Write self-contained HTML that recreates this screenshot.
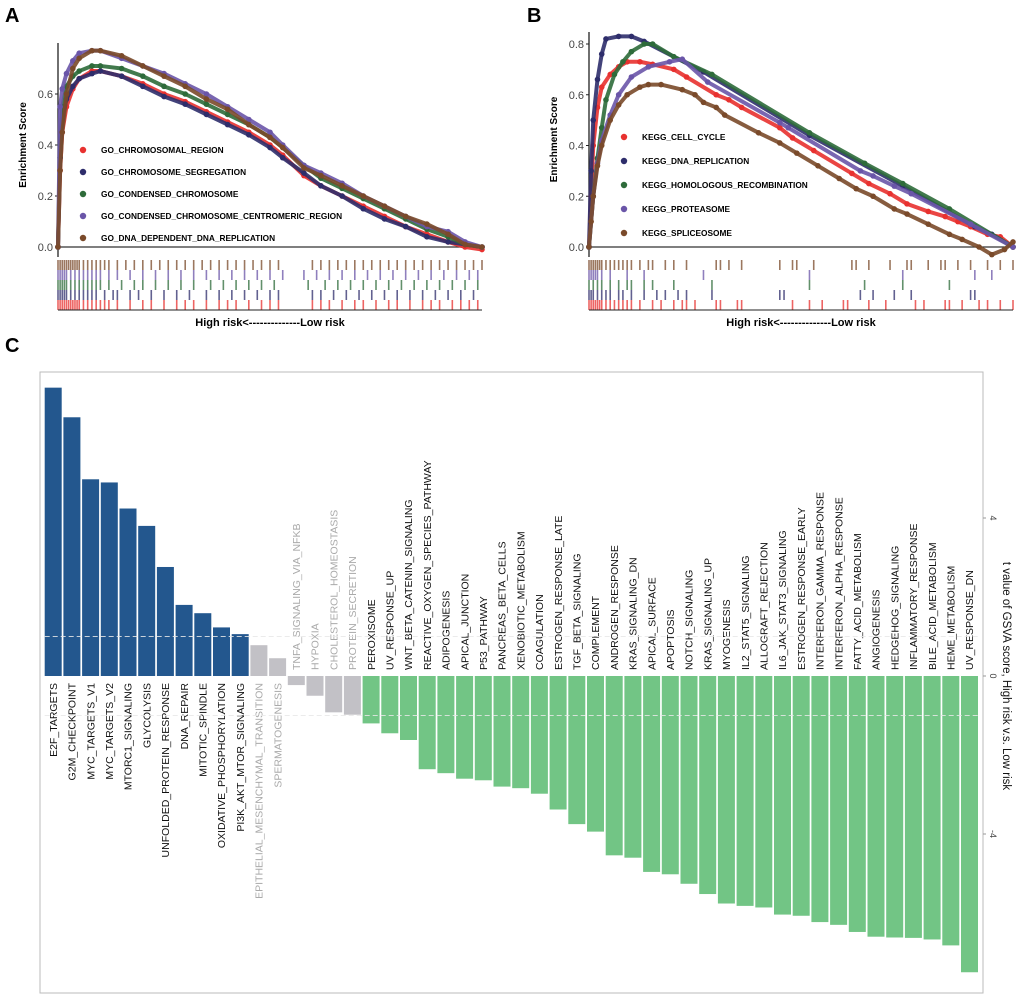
<!DOCTYPE html>
<html><head><meta charset="utf-8"><style>
html,body{margin:0;padding:0;background:#fff;}
svg{display:block;font-family:"Liberation Sans",Arial,sans-serif;}
</style></head><body>
<svg id="fig" width="1020" height="999" viewBox="0 0 1020 999" xmlns="http://www.w3.org/2000/svg">
<text x="5" y="22" font-size="20" font-weight="bold">A</text>
<text x="527" y="22" font-size="20" font-weight="bold">B</text>
<text x="5" y="352" font-size="20" font-weight="bold">C</text>
<g id="pa"></g>
<g id="pb"></g>
<g id="pc"></g>
</svg>
<script>
const NS='http://www.w3.org/2000/svg';
function mk(p,t,a){const e=document.createElementNS(NS,t);for(const k in a)e.setAttribute(k,a[k]);p.appendChild(e);return e;}
const COLORS=['#e8312f','#2e2d6b','#2e6b3a','#6a55a8','#7a4a2a'];

// ---- Panel A data ----
const aNames=['GO_CHROMOSOMAL_REGION','GO_CHROMOSOME_SEGREGATION','GO_CONDENSED_CHROMOSOME','GO_CONDENSED_CHROMOSOME_CENTROMERIC_REGION','GO_DNA_DEPENDENT_DNA_REPLICATION'];
const aX=[0,0.005,0.01,0.02,0.035,0.05,0.08,0.1,0.15,0.2,0.25,0.3,0.35,0.4,0.45,0.5,0.53,0.58,0.62,0.67,0.72,0.77,0.82,0.87,0.92,0.96,1];
const aRed=[0,0.3,0.45,0.55,0.62,0.66,0.69,0.69,0.67,0.64,0.6,0.57,0.53,0.49,0.45,0.40,0.36,0.28,0.24,0.2,0.16,0.12,0.08,0.05,0.02,0.0,-0.01];
const aNavy=[0,0.35,0.5,0.58,0.63,0.66,0.68,0.69,0.67,0.63,0.59,0.56,0.52,0.48,0.44,0.39,0.35,0.29,0.24,0.2,0.15,0.11,0.08,0.04,0.02,0.01,0.0];
const aGreen=[0,0.4,0.55,0.63,0.67,0.69,0.71,0.71,0.70,0.67,0.63,0.6,0.56,0.52,0.48,0.43,0.39,0.32,0.27,0.23,0.19,0.15,0.11,0.07,0.04,0.01,0.0];
const aPurple=[0,0.55,0.62,0.68,0.73,0.76,0.77,0.77,0.74,0.71,0.68,0.64,0.6,0.55,0.5,0.45,0.40,0.32,0.29,0.25,0.2,0.16,0.12,0.08,0.06,0.02,0.0];
const aBrown=[0,0.3,0.45,0.6,0.7,0.74,0.77,0.77,0.75,0.71,0.67,0.63,0.58,0.54,0.48,0.43,0.39,0.31,0.28,0.24,0.2,0.16,0.12,0.09,0.05,0.01,0.0];
const aTicks=[0,0.2,0.4,0.6];
const aRug=[
 [0,0.005,0.01,0.015,0.02,0.025,0.03,0.035,0.04,0.045,0.05,0.06,0.07,0.08,0.09,0.1,0.11,0.12,0.14,0.17,0.2,0.22,0.25,0.28,0.3,0.32,0.35,0.38,0.4,0.42,0.45,0.48,0.5,0.52,0.6,0.62,0.64,0.67,0.7,0.72,0.75,0.78,0.8,0.83,0.86,0.88,0.9,0.93,0.95,0.97,0.99],
 [0,0.005,0.01,0.015,0.02,0.03,0.04,0.05,0.06,0.07,0.08,0.09,0.11,0.13,0.14,0.17,0.19,0.22,0.25,0.28,0.31,0.35,0.38,0.41,0.44,0.47,0.5,0.52,0.6,0.62,0.65,0.68,0.71,0.74,0.77,0.8,0.83,0.86,0.89,0.92,0.95,0.98],
 [0,0.005,0.01,0.015,0.02,0.03,0.04,0.05,0.06,0.07,0.08,0.09,0.1,0.12,0.15,0.18,0.2,0.23,0.26,0.29,0.32,0.36,0.39,0.42,0.45,0.48,0.51,0.59,0.63,0.66,0.69,0.72,0.75,0.78,0.81,0.84,0.87,0.9,0.93,0.96,0.99],
 [0,0.005,0.01,0.015,0.02,0.03,0.04,0.05,0.06,0.07,0.08,0.09,0.1,0.12,0.14,0.17,0.2,0.23,0.26,0.29,0.32,0.35,0.38,0.41,0.44,0.47,0.5,0.53,0.58,0.61,0.64,0.67,0.7,0.73,0.76,0.79,0.82,0.85,0.88,0.91,0.94,0.97,0.99],
 [0,0.005,0.01,0.015,0.02,0.025,0.03,0.035,0.04,0.045,0.05,0.06,0.07,0.08,0.09,0.1,0.11,0.12,0.14,0.16,0.18,0.2,0.22,0.24,0.26,0.28,0.3,0.32,0.34,0.36,0.38,0.4,0.42,0.44,0.46,0.48,0.5,0.52,0.6,0.62,0.64,0.66,0.68,0.7,0.72,0.74,0.76,0.78,0.8,0.82,0.84,0.86,0.88,0.9,0.92,0.94,0.96,0.98,1]];

// ---- Panel B data ----
const bNames=['KEGG_CELL_CYCLE','KEGG_DNA_REPLICATION','KEGG_HOMOLOGOUS_RECOMBINATION','KEGG_PROTEASOME','KEGG_SPLICEOSOME'];
const bRedX=[0,0.005,0.01,0.02,0.03,0.05,0.07,0.09,0.12,0.15,0.2,0.23,0.3,0.33,0.36,0.45,0.48,0.53,0.62,0.66,0.71,0.75,0.8,0.84,0.87,0.9,0.94,0.97,1];
const bRed=[0,0.2,0.4,0.55,0.63,0.68,0.71,0.73,0.73,0.72,0.7,0.67,0.6,0.58,0.55,0.47,0.43,0.38,0.29,0.25,0.21,0.17,0.14,0.12,0.1,0.08,0.05,0.04,0.0];
const bNavyX=[0,0.005,0.01,0.02,0.03,0.04,0.07,0.1,0.13,0.27,0.52,0.74,0.91,0.95,1];
const bNavy=[0,0.3,0.5,0.66,0.76,0.82,0.83,0.83,0.81,0.69,0.44,0.24,0.08,0.05,0.0];
const bGreenX=[0,0.01,0.02,0.03,0.04,0.06,0.08,0.1,0.13,0.15,0.2,0.29,0.52,0.65,0.74,0.85,1];
const bGreen=[0,0.2,0.35,0.47,0.58,0.68,0.73,0.77,0.8,0.8,0.75,0.68,0.45,0.33,0.25,0.15,0.0];
const bPurpleX=[0,0.01,0.02,0.03,0.05,0.07,0.1,0.14,0.19,0.22,0.28,0.45,0.47,0.64,0.67,0.72,0.76,0.9,1];
const bPurple=[0,0.2,0.33,0.42,0.52,0.6,0.67,0.71,0.73,0.74,0.65,0.49,0.47,0.3,0.28,0.24,0.21,0.09,0.0];
const bBrownX=[0,0.005,0.01,0.02,0.03,0.05,0.07,0.09,0.12,0.14,0.17,0.22,0.25,0.27,0.3,0.32,0.4,0.45,0.49,0.54,0.59,0.63,0.67,0.72,0.75,0.8,0.85,0.88,0.92,0.95,0.98,1];
const bBrown=[0,0.1,0.2,0.32,0.4,0.5,0.56,0.6,0.63,0.64,0.64,0.62,0.6,0.57,0.55,0.52,0.45,0.41,0.37,0.32,0.27,0.23,0.2,0.15,0.13,0.09,0.05,0.03,0.0,-0.03,-0.01,0.02];
const bTicks=[0,0.2,0.4,0.6,0.8];
const bRug=[
 [0,0.005,0.01,0.015,0.02,0.025,0.03,0.04,0.05,0.06,0.07,0.08,0.09,0.1,0.12,0.15,0.17,0.2,0.22,0.23,0.25,0.3,0.31,0.35,0.36,0.48,0.52,0.55,0.6,0.61,0.66,0.7,0.77,0.79,0.84,0.85,0.88,0.92,0.94,0.97,1],
 [0,0.005,0.01,0.02,0.03,0.04,0.05,0.07,0.08,0.1,0.13,0.16,0.18,0.21,0.23,0.29,0.45,0.46,0.64,0.67,0.72,0.76,0.9,0.91],
 [0,0.01,0.02,0.03,0.05,0.07,0.09,0.1,0.13,0.15,0.2,0.29,0.52,0.65,0.74,0.85],
 [0,0.005,0.01,0.015,0.02,0.03,0.05,0.09,0.13,0.27,0.52,0.74,0.91,0.95],
 [0,0.005,0.01,0.015,0.02,0.025,0.03,0.04,0.05,0.06,0.07,0.08,0.09,0.1,0.12,0.14,0.15,0.18,0.2,0.23,0.3,0.31,0.33,0.36,0.45,0.48,0.49,0.53,0.62,0.63,0.66,0.71,0.75,0.76,0.8,0.83,0.84,0.87,0.9,0.94,0.97,1]];

function gsea(g,x0,x1,y0,scale,ticks,series,names,rug,legX,legY,legStep,axTop){
  const X=f=>x0+f*(x1-x0), Y=v=>y0-v*scale;
  mk(g,'line',{x1:x0,y1:axTop,x2:x0,y2:y0+10,stroke:'#222','stroke-width':1.3,});
  mk(g,'line',{x1:x0,y1:y0,x2:x1,y2:y0,stroke:'#333','stroke-width':1.2,});
  ticks.forEach(t=>{
    const tl=mk(g,'line',{x1:x0-3,y1:Y(t),x2:x0,y2:Y(t),stroke:'#222'});
    
    
    const tx=mk(g,'text',{x:x0-5,y:Y(t)+4,'text-anchor':'end','font-size':11,fill:'#444'});
    tx.textContent=t.toFixed(1);
    
    
  });
  const yt=mk(g,'text',{transform:`translate(${x0-32},${(axTop+y0)/2}) rotate(-90)`,'text-anchor':'middle','font-size':10,'font-weight':'bold'});
  yt.textContent='Enrichment Score';
  
  
  series.forEach((s,i)=>{
    const pts=s.x.map((xv,j)=>X(xv)+','+Y(s.y[j])).join(' ');
    const pl=mk(g,'polyline',{points:pts,fill:'none',stroke:COLORS[i],'stroke-width':4,'stroke-linejoin':'round','stroke-linecap':'round',opacity:0.9});
    
    
    s.x.forEach((xv,j)=>{const c=mk(g,'circle',{cx:X(xv),cy:Y(s.y[j]),r:2.8,fill:COLORS[i]});
      
      });
  });
  names.forEach((n,i)=>{
    const c=mk(g,'circle',{cx:legX,cy:legY+i*legStep,r:3.2,fill:COLORS[i]});
    
    
    const t=mk(g,'text',{x:legX+18,y:legY+i*legStep+3,'font-size':8.3,'font-weight':'bold'});
    t.textContent=n;
    
    
  });
  const order=[4,3,2,1,0]; const rt=y0+13, rh=10;
  order.forEach((si,row)=>{
    rug[si].forEach(f=>{const l=mk(g,'line',{x1:X(f),x2:X(f),y1:rt+row*rh,y2:rt+row*rh+rh,stroke:COLORS[si],'stroke-width':1.6,opacity:0.75});
      
      });
  });
  mk(g,'line',{x1:x0,y1:rt+5*rh,x2:x1,y2:rt+5*rh,stroke:'#222','stroke-width':1});
  const xl=mk(g,'text',{x:(x0+x1)/2,y:rt+5*rh+16,'text-anchor':'middle','font-size':11,'font-weight':'bold'});
  xl.textContent='High risk<--------------Low risk';
  
  
}
gsea(document.getElementById('pa'),58,482,247,255,aTicks,
 [aRed,aNavy,aGreen,aPurple,aBrown].map(y=>({x:aX,y})),aNames,aRug,83,150,22,43);
gsea(document.getElementById('pb'),589,1013,247,253.75,bTicks,
 [{x:bRedX,y:bRed},{x:bNavyX,y:bNavy},{x:bGreenX,y:bGreen},{x:bPurpleX,y:bPurple},{x:bBrownX,y:bBrown}],bNames,bRug,624,137,24,32);

// ---- Panel C data ----
const cCats=['E2F_TARGETS','G2M_CHECKPOINT','MYC_TARGETS_V1','MYC_TARGETS_V2','MTORC1_SIGNALING','GLYCOLYSIS','UNFOLDED_PROTEIN_RESPONSE','DNA_REPAIR','MITOTIC_SPINDLE','OXIDATIVE_PHOSPHORYLATION','PI3K_AKT_MTOR_SIGNALING','EPITHELIAL_MESENCHYMAL_TRANSITION','SPERMATOGENESIS','TNFA_SIGNALING_VIA_NFKB','HYPOXIA','CHOLESTEROL_HOMEOSTASIS','PROTEIN_SECRETION','PEROXISOME','UV_RESPONSE_UP','WNT_BETA_CATENIN_SIGNALING','REACTIVE_OXYGEN_SPECIES_PATHWAY','ADIPOGENESIS','APICAL_JUNCTION','P53_PATHWAY','PANCREAS_BETA_CELLS','XENOBIOTIC_METABOLISM','COAGULATION','ESTROGEN_RESPONSE_LATE','TGF_BETA_SIGNALING','COMPLEMENT','ANDROGEN_RESPONSE','KRAS_SIGNALING_DN','APICAL_SURFACE','APOPTOSIS','NOTCH_SIGNALING','KRAS_SIGNALING_UP','MYOGENESIS','IL2_STAT5_SIGNALING','ALLOGRAFT_REJECTION','IL6_JAK_STAT3_SIGNALING','ESTROGEN_RESPONSE_EARLY','INTERFERON_GAMMA_RESPONSE','INTERFERON_ALPHA_RESPONSE','FATTY_ACID_METABOLISM','ANGIOGENESIS','HEDGEHOG_SIGNALING','INFLAMMATORY_RESPONSE','BILE_ACID_METABOLISM','HEME_METABOLISM','UV_RESPONSE_DN'];
const cVals=[7.3,6.55,4.98,4.9,4.24,3.8,2.76,1.8,1.59,1.23,1.06,0.78,0.45,-0.23,-0.5,-0.92,-0.98,-1.2,-1.45,-1.62,-2.36,-2.46,-2.6,-2.64,-2.8,-2.84,-2.98,-3.38,-3.75,-3.94,-4.54,-4.6,-4.96,-5.02,-5.26,-5.52,-5.76,-5.82,-5.86,-6.04,-6.07,-6.23,-6.3,-6.48,-6.6,-6.62,-6.63,-6.67,-6.82,-7.5];
const cTicks=[-4,0,4];
const cCut=1;

(function(){
  const g=document.getElementById('pc');
  const zero=676, unit=39.5, left=44.7, step=18.7, bw=17;
  const Y=v=>zero-v*unit;
  const box=mk(g,'rect',{x:40,y:372,width:943,height:621,fill:'none',stroke:'#bbb','stroke-width':1});
  
  
  cVals.forEach((v,i)=>{
    const sig=Math.abs(v)>cCut;
    const col=!sig?'#c2c1c6':(v>0?'#23578e':'#72c585');
    const x=left+i*step;
    const r=mk(g,'rect',{x:x,y:Math.min(Y(v),zero),width:bw,height:Math.abs(Y(v)-zero),fill:col});
    
    
    const cx=x+bw/2+3.7;
    const t=mk(g,'text',{'font-size':10.5,fill:sig?'#111':'#aaa'});
    if(v>0){t.setAttribute('transform',`translate(${cx},${zero+7}) rotate(-90)`);t.setAttribute('text-anchor','end');}
    else{t.setAttribute('transform',`translate(${cx},${zero-6}) rotate(-90)`);t.setAttribute('text-anchor','start');}
    t.textContent=cCats[i];
    
    
  });
  [cCut,-cCut].forEach(c=>{
    const l=mk(g,'line',{x1:left,x2:left+cCats.length*step,y1:Y(c),y2:Y(c),stroke:'#e8e8e8','stroke-width':1,'stroke-dasharray':'5,3',opacity:0.85});
    
    
  });
  cTicks.forEach(t=>{
    const l=mk(g,'line',{x1:983,x2:986,y1:Y(t),y2:Y(t),stroke:'#999'});
    
    
    const tx=mk(g,'text',{transform:`translate(${990},${Y(t)}) rotate(90)`,'text-anchor':'middle','font-size':9,fill:'#444'});
    tx.textContent=String(t);
    
    
  });
  const tt=mk(g,'text',{transform:`translate(1003,${zero}) rotate(90)`,'text-anchor':'middle','font-size':11.5,fill:'#111'});
  tt.textContent='t value of GSVA score, High risk v.s. Low risk';
  
  
})();
</script>
</body></html>
